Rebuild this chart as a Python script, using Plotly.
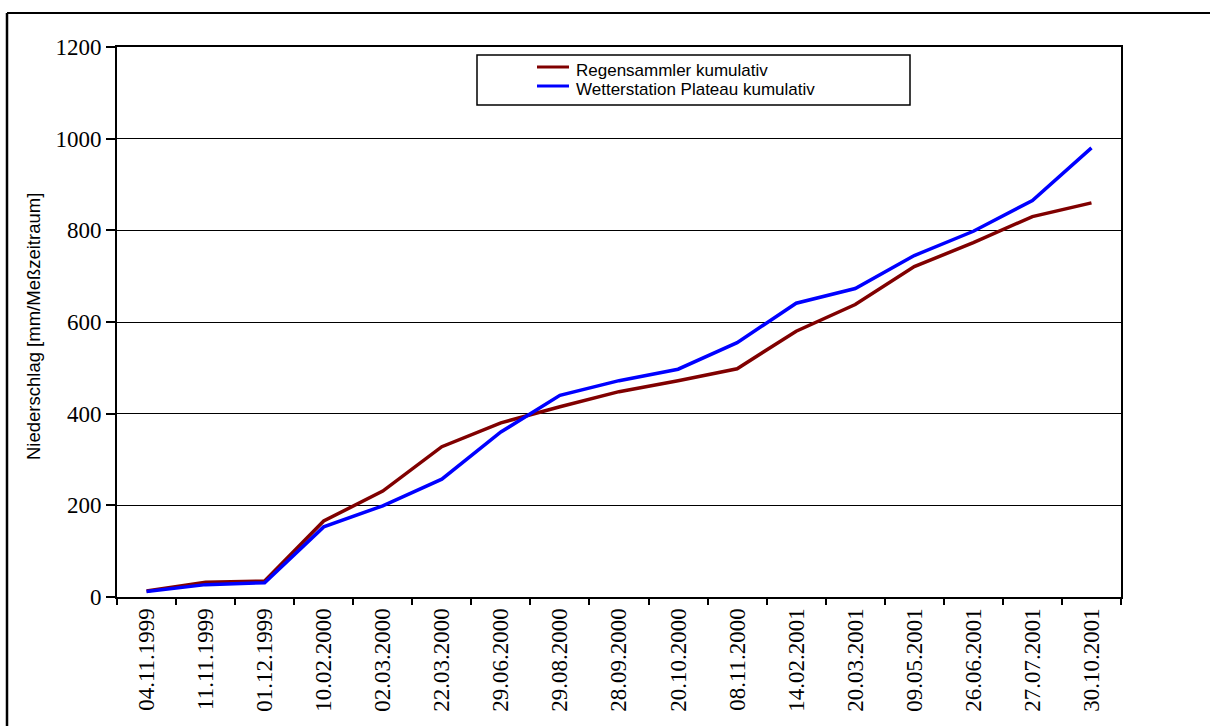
import plotly.graph_objects as go

# Messtermine (Kategorien der x-Achse)
dates = [
    "04.11.1999", "11.11.1999", "01.12.1999", "10.02.2000", "02.03.2000",
    "22.03.2000", "29.06.2000", "29.08.2000", "28.09.2000", "20.10.2000",
    "08.11.2000", "14.02.2001", "20.03.2001", "09.05.2001", "26.06.2001",
    "27.07.2001", "30.10.2001",
]

# Kumulativer Niederschlag [mm]
regensammler = [13, 32, 35, 166, 231, 328, 380, 415, 448, 472,
                498, 580, 638, 721, 773, 830, 860]
wetterstation = [12, 27, 31, 153, 199, 257, 360, 440, 472, 497,
                 555, 641, 673, 745, 798, 865, 980]

y_ticks = [0, 200, 400, 600, 800, 1000, 1200]

names = ["Regensammler kumulativ", "Wetterstation Plateau kumulativ"]
colors = ["#800000", "#0000FF"]
series = [regensammler, wetterstation]

W, H = 1210, 726
L, R, T, B = 117, 89, 47, 129
PW, PH = W - L - R, H - T - B


def px_x(px):
    return (px - L) / PW


def px_y(py):
    return (H - B - py) / PH


SERIF = "Liberation Serif, Times New Roman, serif"
SANS = "Liberation Sans, Arial, sans-serif"

fig = go.Figure()
for name, vals, col in zip(names, series, colors):
    fig.add_trace(go.Scatter(
        x=dates, y=vals, mode="lines", name=name,
        line=dict(color=col, width=3.5), showlegend=False,
    ))

shapes = []
# outer chart frame (left and top edges)
shapes.append(dict(type="line", xref="paper", yref="paper",
                   x0=px_x(7), x1=px_x(W + 10), y0=px_y(13), y1=px_y(13),
                   line=dict(color="black", width=2)))
shapes.append(dict(type="line", xref="paper", yref="paper",
                   x0=px_x(7), x1=px_x(7), y0=px_y(13), y1=px_y(H + 10),
                   line=dict(color="black", width=2.5)))
# legend box
shapes.append(dict(type="rect", xref="paper", yref="paper",
                   x0=px_x(477), x1=px_x(910), y0=px_y(55), y1=px_y(105),
                   line=dict(color="black", width=1.5), fillcolor="white"))

annotations = []
legend_rows = [67, 86]
for (name, col, ly) in zip(names, colors, legend_rows):
    shapes.append(dict(type="line", xref="paper", yref="paper",
                       x0=px_x(537), x1=px_x(569), y0=px_y(ly), y1=px_y(ly),
                       line=dict(color=col, width=3)))
    annotations.append(dict(
        text=name, xref="paper", yref="paper", x=px_x(574), y=px_y(ly + 3),
        xanchor="left", yanchor="middle", showarrow=False,
        font=dict(family=SANS, size=17, color="black"),
    ))

# y-axis title
annotations.append(dict(
    text="Niederschlag [mm/Meßzeitraum]", xref="paper", yref="paper",
    x=px_x(33.5), y=px_y(326.5), xanchor="center", yanchor="middle",
    textangle=-90, showarrow=False,
    font=dict(family=SANS, size=18.5, color="black"),
))

fig.update_layout(
    width=W, height=H,
    margin=dict(l=L, r=R, t=T, b=B, autoexpand=False),
    paper_bgcolor="white", plot_bgcolor="white",
    shapes=shapes, annotations=annotations,
    showlegend=False,
)

fig.update_xaxes(
    type="category", range=[-0.5, len(dates) - 0.5],
    tickson="boundaries", ticks="outside", ticklen=6, tickwidth=2,
    tickcolor="black", tickangle=-90,
    tickfont=dict(family=SERIF, size=23, color="black"),
    showline=True, linecolor="black", linewidth=2, mirror=True,
    showgrid=False, zeroline=False,
)
fig.update_yaxes(
    range=[0, 1200], tickvals=y_ticks,
    ticks="outside", ticklen=9, tickwidth=2, tickcolor="black",
    tickfont=dict(family=SERIF, size=23, color="black"),
    showline=True, linecolor="black", linewidth=2, mirror=True,
    showgrid=True, gridcolor="black", gridwidth=1, zeroline=False,
)

fig.write_html("out.html")
